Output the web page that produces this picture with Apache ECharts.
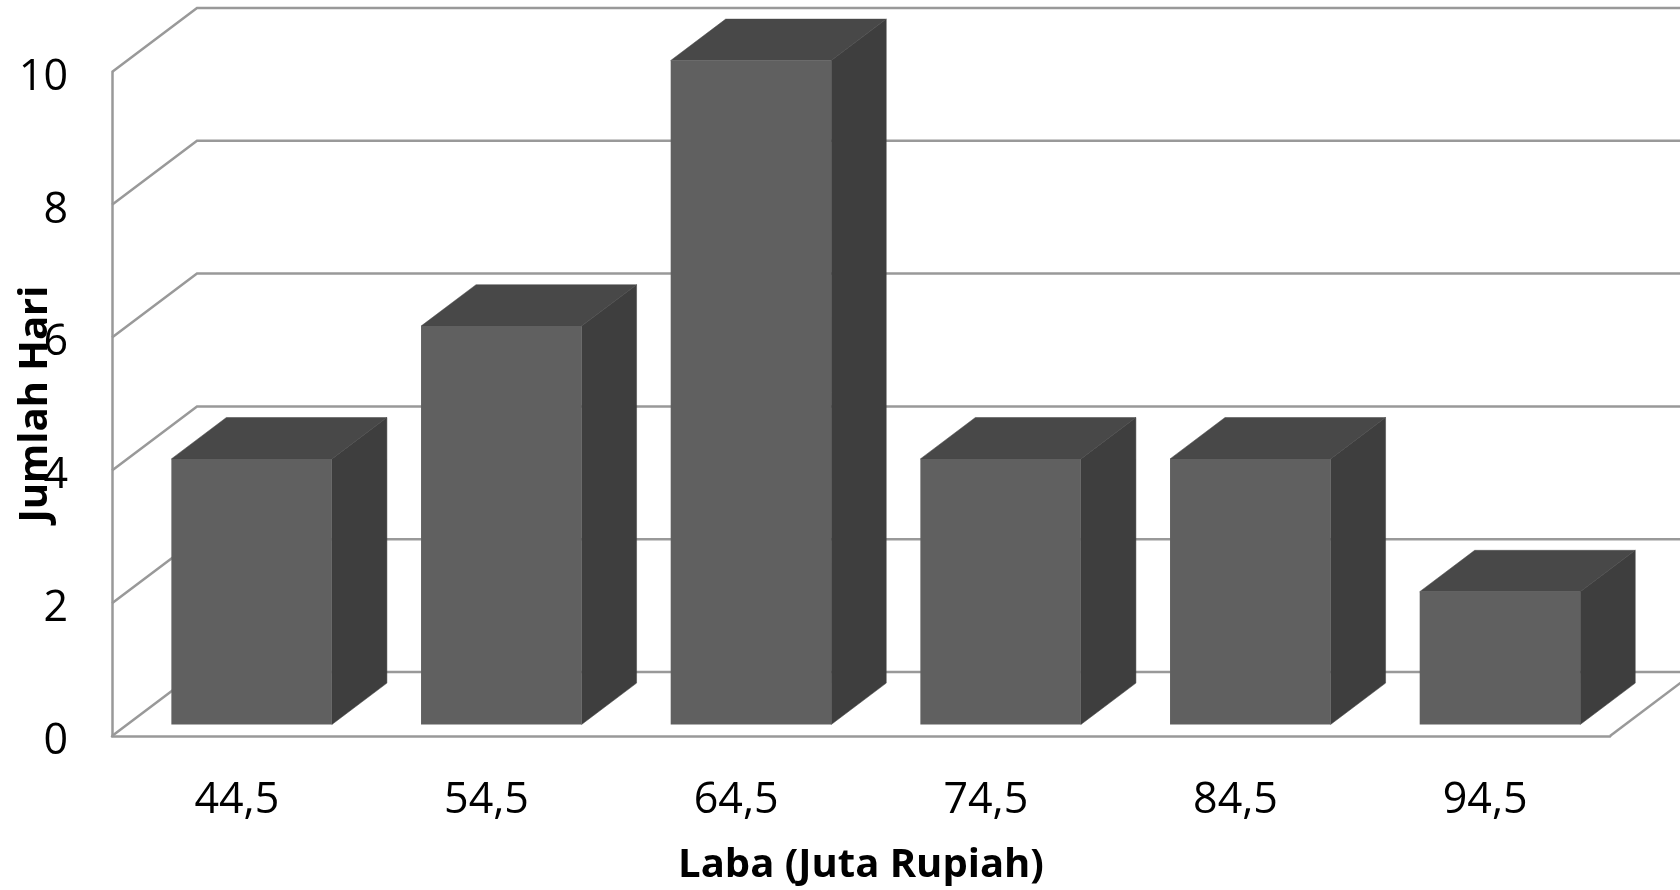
<!DOCTYPE html>
<html>
<head>
<meta charset="utf-8">
<title>Laba</title>
<script src="https://cdn.jsdelivr.net/npm/echarts@6/dist/echarts.min.js"></script>
<style>
html,body{margin:0;padding:0;background:#fff;}
#main{width:1680px;height:890px;}
</style>
</head>
<body>
<div id="main"></div>
<script>
// 数据
const categories = ['44,5','54,5','64,5','74,5','84,5','94,5']
const jumlahHari = [4,6,10,4,4,2]
const yTicks = [0,2,4,6,8,10]

// 伪3D的进深（像素）
const wallDx = 85, wallDy = -64
const barDx = 55, barDy = -41.4
const barShiftX = 14.8, barShiftY = -11.5
const barRatio = 0.643

const lineColor = '#999999'
const lineWidth = 2.5
const font = '"Open Sans"'

function poly(points, fill, z2) {
    return {type:'polygon', z2:z2, shape:{points:points}, style:{fill:fill, stroke:fill, lineWidth:0.5}}
}

// 背景墙的网格线
function renderWall(params, api) {
    let g = params.coordSys
    let y = api.coord([0, api.value(1)])[1]
    let x0 = g.x, x1 = g.x + g.width
    let children = [{
        type:'polyline',
        shape:{points:[[x0,y],[x0+wallDx,y+wallDy],[x1+wallDx,y+wallDy]]},
        style:{stroke:lineColor, lineWidth:lineWidth, fill:null}
    }]
    if (api.value(1) === 0) {
        children.push({
            type:'line',
            shape:{x1:x1,y1:y,x2:x1+wallDx,y2:y+wallDy},
            style:{stroke:lineColor, lineWidth:lineWidth}
        })
    }
    return {type:'group', children:children}
}

// 立体柱子：正面、顶面、侧面
function renderBar(params, api) {
    let top = api.coord([api.value(0), api.value(1)])
    let bottom = api.coord([api.value(0), 0])
    let w = api.size([1,0])[0] * barRatio
    let l = top[0] - w/2 + barShiftX, r = l + w
    let t = top[1] + barShiftY, b = bottom[1] + barShiftY
    return {type:'group', children:[
        poly([[r,t],[r+barDx,t+barDy],[r+barDx,b+barDy],[r,b]], '#3e3e3e', 1),
        poly([[l,t],[l+barDx,t+barDy],[r+barDx,t+barDy],[r,t]], '#484848', 2),
        {type:'rect', z2:3, shape:{x:l,y:t,width:w,height:b-t}, style:{fill:'#606060'}}
    ]}
}

let myChart = echarts.init(document.getElementById('main'))
let option = {
    backgroundColor:'#fff',
    animation:false,
    grid:{left:112,right:70,top:72,bottom:154,outerBoundsMode:'none'},
    xAxis:{
        type:'category',
        data:categories,
        name:'Laba (Juta Rupiah)',
        nameLocation:'middle',
        nameGap:110,
        nameMoveOverlap:false,
        nameTextStyle:{fontFamily:font,fontWeight:'bold',fontSize:40,color:'#000'},
        axisLine:{lineStyle:{color:lineColor,width:lineWidth}},
        axisTick:{show:false},
        axisLabel:{fontFamily:font,fontSize:43,color:'#000',margin:43}
    },
    yAxis:{
        type:'value',
        min:0,
        max:10,
        interval:2,
        name:'Jumlah Hari',
        nameLocation:'middle',
        nameRotate:90,
        nameGap:56,
        nameMoveOverlap:false,
        nameTextStyle:{fontFamily:font,fontWeight:'bold',fontSize:40,color:'#000'},
        axisLine:{show:true,lineStyle:{color:lineColor,width:lineWidth}},
        axisTick:{show:false},
        splitLine:{show:false},
        axisLabel:{
            margin:44,
            formatter:'{t|{value}}',
            rich:{t:{fontFamily:font,fontSize:43,color:'#000',padding:[11,0,0,0]}}
        }
    },
    series:[
        {type:'custom',z:1,silent:true,renderItem:renderWall,data:yTicks.map(function (v) {return [0,v]})},
        {type:'custom',z:2,silent:true,renderItem:renderBar,data:jumlahHari.map(function (v,i) {return [i,v]})}
    ]
}
myChart.setOption(option)
</script>
</body>
</html>
